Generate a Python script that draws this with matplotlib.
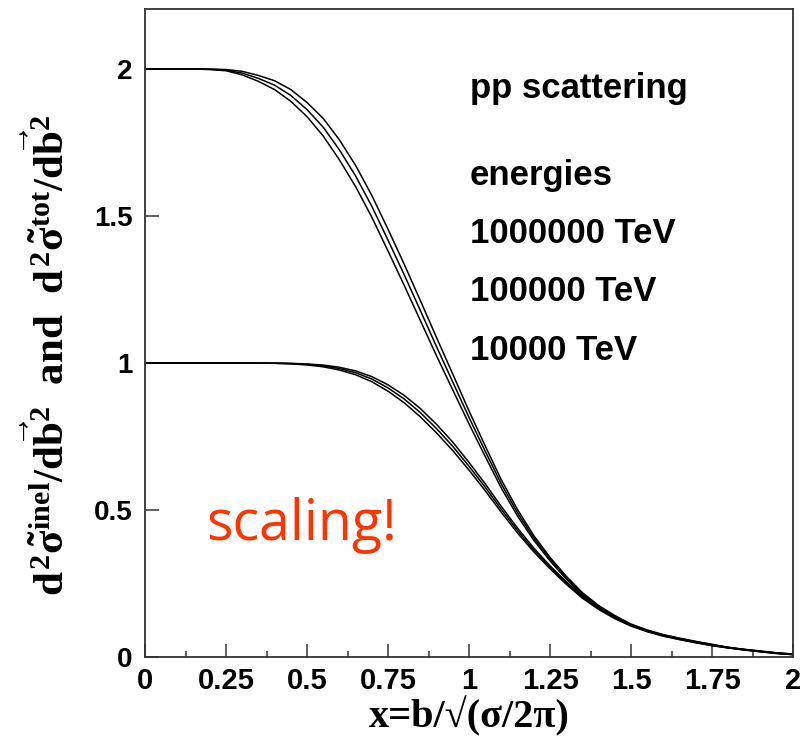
import matplotlib
matplotlib.use('Agg')
import matplotlib.pyplot as plt
from matplotlib.ticker import FixedLocator, NullLocator

# impact parameter x = b / sqrt(sigma / 2 pi)
x = [0.00, 0.05, 0.10, 0.15, 0.20, 0.25, 0.30, 0.35, 0.40, 0.45,
     0.50, 0.55, 0.60, 0.65, 0.70, 0.75, 0.80, 0.85, 0.90, 0.95,
     1.00, 1.05, 1.10, 1.15, 1.20, 1.25, 1.30, 1.35, 1.40, 1.45,
     1.50, 1.55, 1.60, 1.65, 1.70, 1.75, 1.80, 1.85, 1.90, 1.95, 2.00]

# d2 sigma_tot / d b2, three energies
tot_1e4 = [2.000, 2.000, 2.000, 2.000, 1.998, 1.994, 1.980, 1.958, 1.930, 1.890,
           1.838, 1.772, 1.691, 1.600, 1.496, 1.381, 1.264, 1.144, 1.024, 0.908,
           0.793, 0.682, 0.574, 0.479, 0.397, 0.327, 0.265, 0.211, 0.169, 0.135,
           0.108, 0.088, 0.072, 0.060, 0.049, 0.039, 0.031, 0.024, 0.018, 0.012, 0.008]
tot_1e5 = [2.000, 2.000, 2.000, 2.000, 1.999, 1.996, 1.986, 1.968, 1.945, 1.910,
           1.862, 1.802, 1.725, 1.636, 1.533, 1.418, 1.300, 1.178, 1.055, 0.935,
           0.815, 0.700, 0.588, 0.490, 0.405, 0.333, 0.270, 0.215, 0.172, 0.138,
           0.110, 0.090, 0.074, 0.062, 0.051, 0.041, 0.032, 0.025, 0.019, 0.013, 0.009]
tot_1e6 = [2.000, 2.000, 2.000, 2.000, 2.000, 1.998, 1.992, 1.978, 1.960, 1.930,
           1.886, 1.832, 1.759, 1.672, 1.570, 1.455, 1.336, 1.212, 1.086, 0.962,
           0.837, 0.718, 0.602, 0.501, 0.413, 0.339, 0.275, 0.219, 0.175, 0.141,
           0.112, 0.092, 0.076, 0.064, 0.053, 0.043, 0.033, 0.026, 0.020, 0.014, 0.010]

# d2 sigma_inel / d b2, three energies
inel_1e4 = [1.000, 1.000, 1.000, 1.000, 1.000, 1.000, 1.000, 0.9996, 0.9988, 0.9970,
            0.9934, 0.9870, 0.9761, 0.9600, 0.9364, 0.9042, 0.8646, 0.8168, 0.7619, 0.7019,
            0.6358, 0.5657, 0.4916, 0.4216, 0.3576, 0.3003, 0.2474, 0.1999, 0.1619, 0.1304,
            0.1051, 0.0860, 0.0707, 0.0590, 0.0484, 0.0386, 0.0308, 0.0239, 0.0179, 0.0120, 0.0080]
inel_1e5 = [1.000, 1.000, 1.000, 1.000, 1.000, 1.000, 1.000, 0.9997, 0.9993, 0.9980,
            0.9952, 0.9902, 0.9811, 0.9669, 0.9455, 0.9153, 0.8775, 0.8311, 0.7767, 0.7164,
            0.6489, 0.5775, 0.5016, 0.4300, 0.3640, 0.3053, 0.2518, 0.2034, 0.1646, 0.1332,
            0.1070, 0.0880, 0.0726, 0.0610, 0.0503, 0.0406, 0.0317, 0.0248, 0.0189, 0.0130, 0.0090]
inel_1e6 = [1.000, 1.000, 1.000, 1.000, 1.000, 1.000, 1.000, 0.9998, 0.9996, 0.9988,
            0.9967, 0.9929, 0.9855, 0.9731, 0.9537, 0.9257, 0.8898, 0.8448, 0.7912, 0.7306,
            0.6619, 0.5891, 0.5114, 0.4382, 0.3704, 0.3103, 0.2561, 0.2070, 0.1673, 0.1360,
            0.1089, 0.0900, 0.0746, 0.0630, 0.0523, 0.0425, 0.0327, 0.0258, 0.0199, 0.0140, 0.0100]

energies = ['1000000 TeV', '100000 TeV', '10000 TeV']
x_major = [0, 0.25, 0.5, 0.75, 1, 1.25, 1.5, 1.75, 2]
x_labels = ['0', '0.25', '0.5', '0.75', '1', '1.25', '1.5', '1.75', '2']
y_major = [0, 0.5, 1, 1.5, 2]
y_labels = ['0', '0.5', '1', '1.5', '2']

plt.rcParams['mathtext.fontset'] = 'custom'
plt.rcParams['mathtext.rm'] = 'Liberation Serif:bold'
plt.rcParams['mathtext.it'] = 'Liberation Serif:bold'
plt.rcParams['mathtext.bf'] = 'Liberation Serif:bold'

W, H = 802, 750
fig = plt.figure(figsize=(W / 100, H / 100), dpi=100)
ax = fig.add_axes([145 / W, 93 / H, 648 / W, 648 / H])

for curve in (tot_1e4, tot_1e5, tot_1e6, inel_1e4, inel_1e5, inel_1e6):
    ax.plot(x, curve, color='black', lw=1.1)

ax.set_xlim(0, 2)
ax.set_ylim(0, 2.204)

ax.xaxis.set_major_locator(FixedLocator(x_major))
ax.set_xticklabels(x_labels)
ax.xaxis.set_minor_locator(FixedLocator([0.125 + 0.25 * i for i in range(8)]))
ax.yaxis.set_major_locator(FixedLocator(y_major))
ax.set_yticklabels(y_labels)
ax.yaxis.set_minor_locator(NullLocator())

ax.tick_params(axis='x', which='major', direction='in', length=9.5, width=1.1,
               color='#333333', pad=7.5)
ax.tick_params(axis='x', which='minor', direction='in', length=4.5, width=1.1,
               color='#333333')
ax.tick_params(axis='y', which='major', direction='in', length=10, width=1.1,
               color='#333333', pad=9)
for lab in ax.get_xticklabels():
    lab.set_fontfamily('Liberation Sans')
    lab.set_fontweight('bold')
    lab.set_fontsize(21)
for lab in ax.get_yticklabels():
    lab.set_fontfamily('Liberation Sans')
    lab.set_fontweight('bold')
    lab.set_fontsize(20)
for s in ax.spines.values():
    s.set_color('#333333')
    s.set_linewidth(1.3)

txt = dict(fontfamily='Liberation Sans', fontweight='bold', fontsize=25,
           ha='left', va='center')
ax.text(1.003, 1.935, 'pp scattering', **txt)
ax.text(1.003, 1.639, 'energies', **txt)
for i, e in enumerate(energies):
    ax.text(1.003, 1.442 - 0.2 * i, e, **txt)

ax.text(0.188, 0.398, 'scaling!', color='#ff3300', fontfamily='Open Sans',
        fontsize=40, ha='left', va='baseline')

fig.text(469 / W, 1 - 716 / H, 'x=b/\u221a(\u03c3/2\u03c0)',
         fontfamily=['Liberation Serif', 'DejaVu Serif'], fontweight='bold',
         fontsize=29, ha='center', va='center')
fig.text(50 / W, 1 - 355 / H,
         r'$d^2\tilde{\sigma}^{inel}/d\vec{b}^2$  and  $d^2\tilde{\sigma}^{tot}/d\vec{b}^2$',
         fontfamily='Liberation Serif', fontweight='bold', fontsize=31,
         rotation=90, ha='center', va='center')

fig.savefig('out.png', dpi=100)
